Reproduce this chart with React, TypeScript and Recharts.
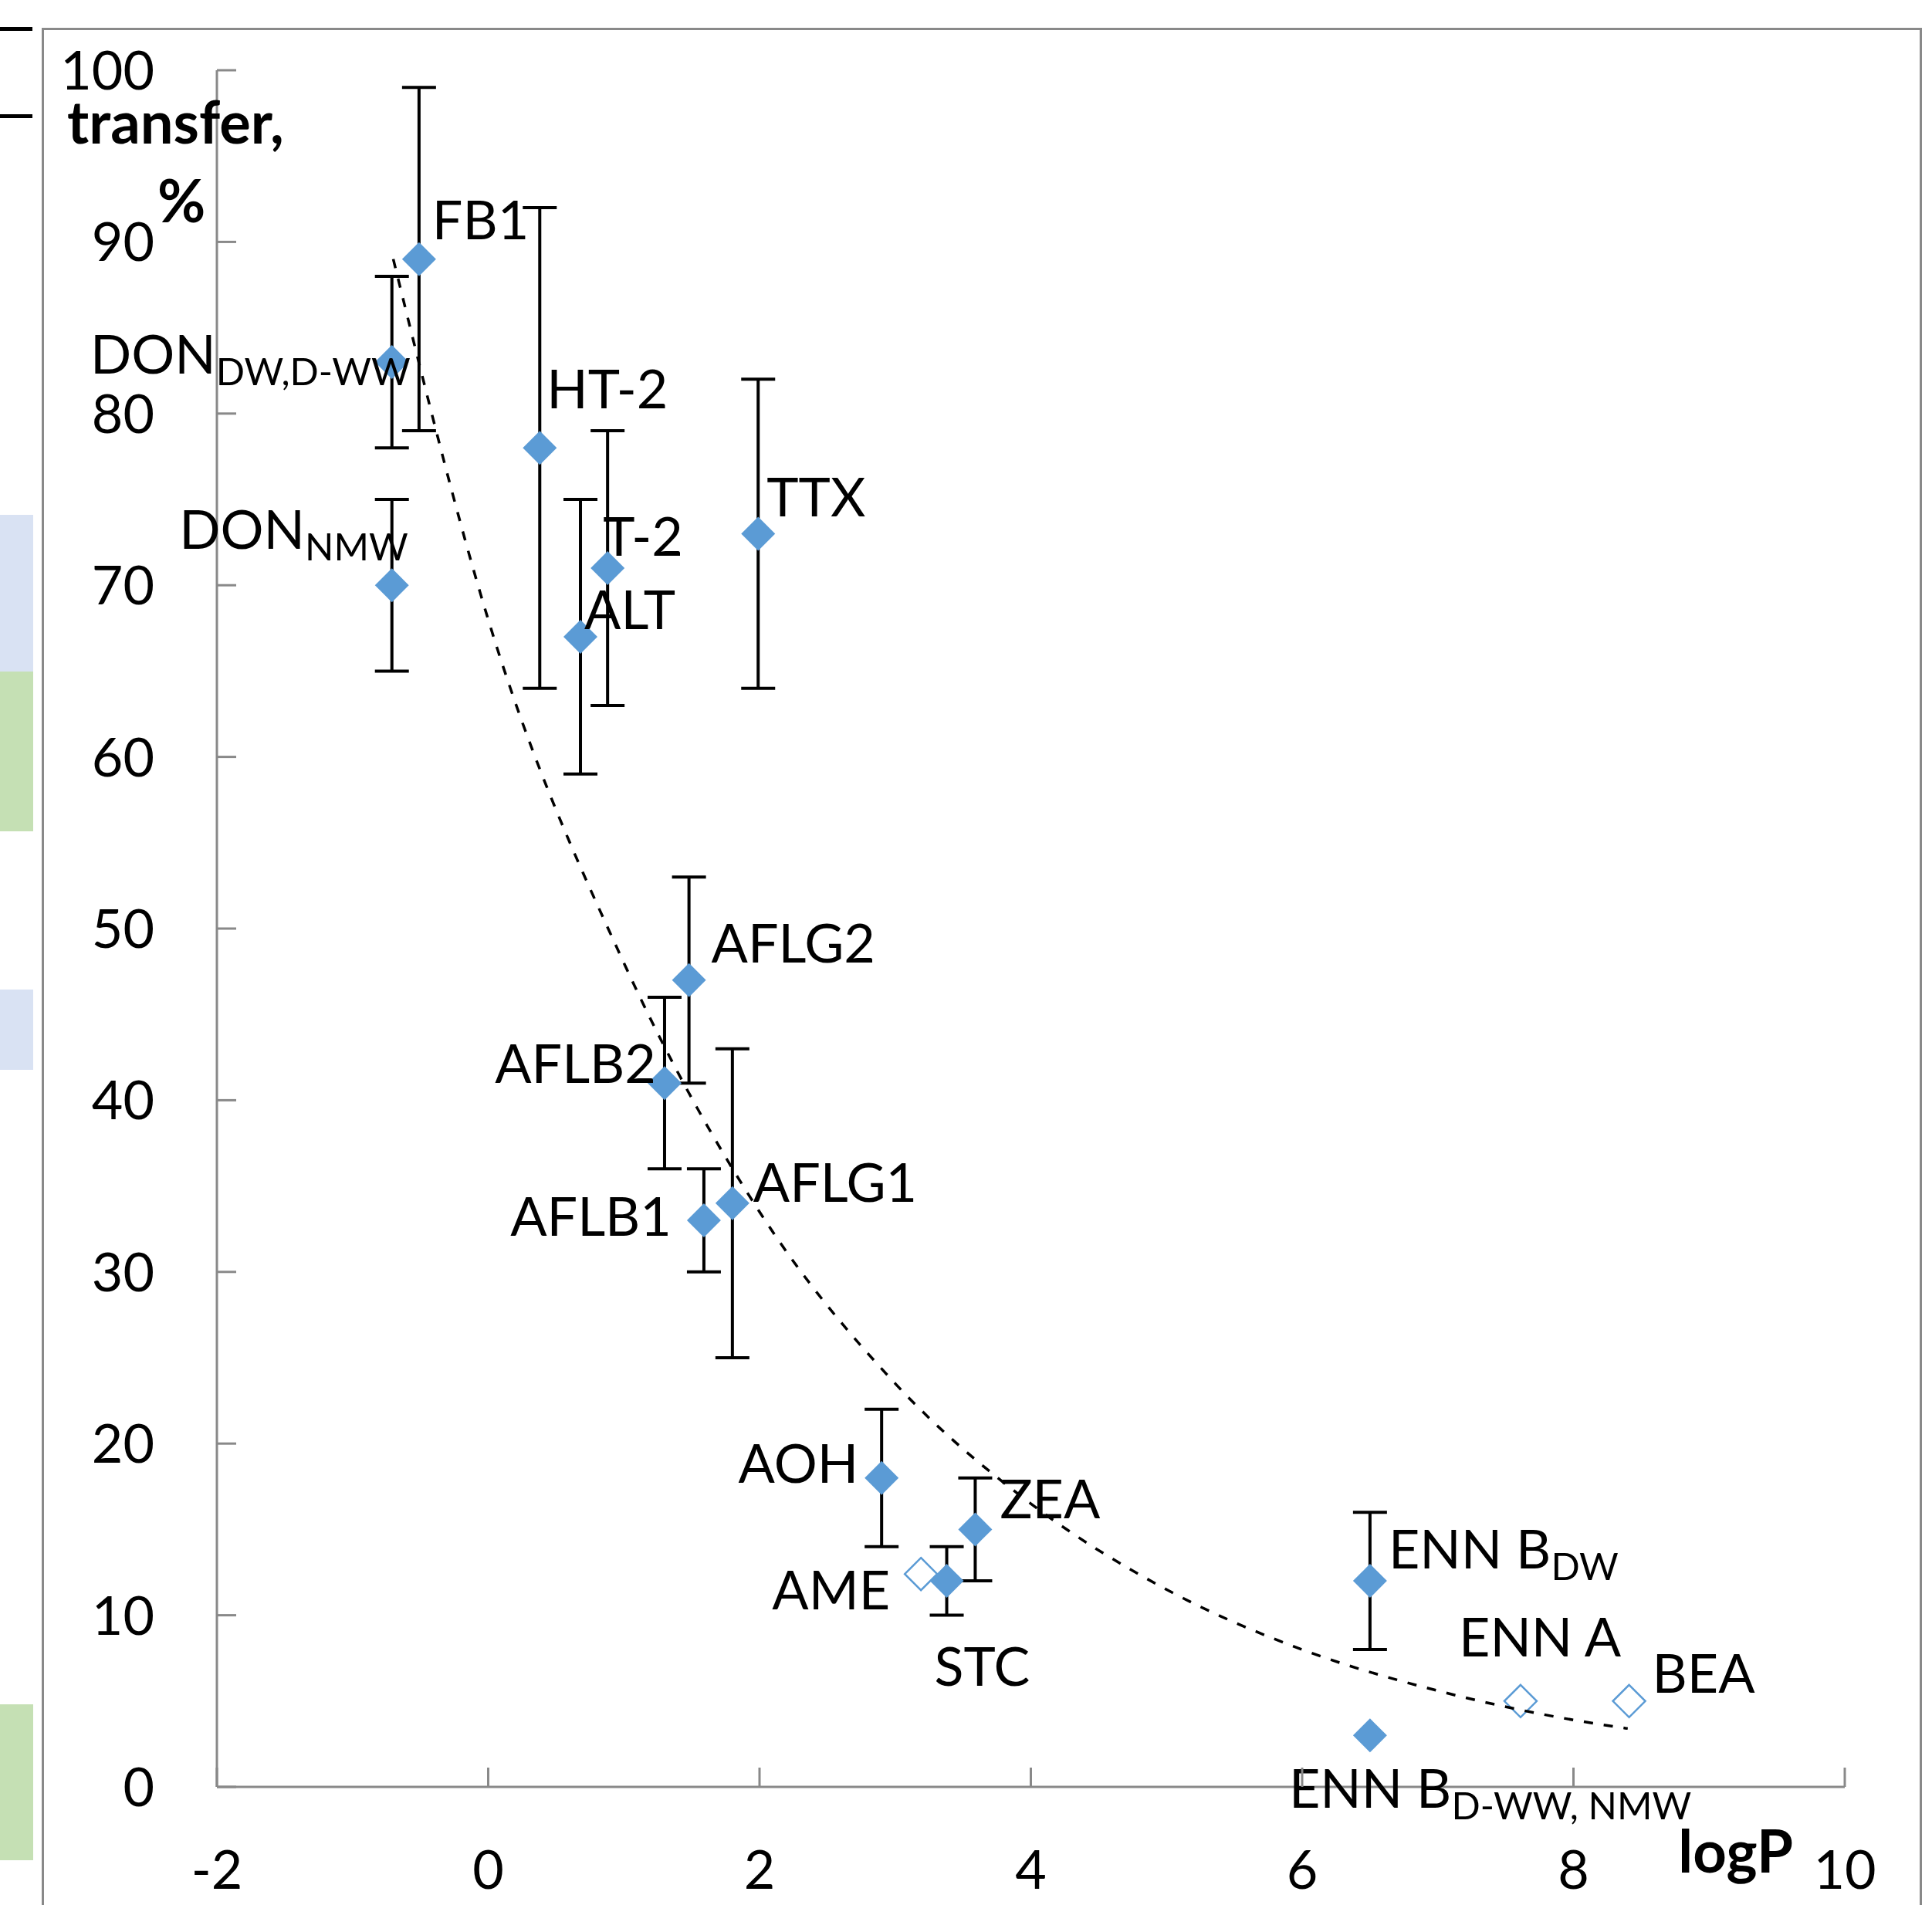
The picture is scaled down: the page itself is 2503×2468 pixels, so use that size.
import React from "react";
import { ScatterChart, Scatter, XAxis, YAxis, ErrorBar, Label } from "recharts";

// measured compounds (filled markers)
const names = ["FB1", "DON", "DON", "HT-2", "T-2", "ALT", "TTX", "AFLG2", "AFLB2", "AFLB1", "AFLG1", "AOH", "ZEA", "STC", "ENN B", "ENN B"];
const subs = ["", "DW,D-WW", "NMW", "", "", "", "", "", "", "", "", "", "", "", "DW", "D-WW, NMW"];
const logP = [-0.51, -0.71, -0.71, 0.38, 0.88, 0.68, 1.99, 1.48, 1.3, 1.59, 1.8, 2.9, 3.59, 3.38, 6.5, 6.5];
const transfer = [89, 83, 70, 78, 71, 67, 73, 47, 41, 33, 34, 18, 15, 12, 12, 3];
const spread = [10, 5, 5, 14, 8, 8, 9, 6, 5, 3, 9, 4, 3, 2, 4, 0];

// estimated compounds (hollow markers)
const estNames = ["AME", "ENN A", "BEA"];
const estLogP = [3.19, 7.61, 8.41];
const estTransfer = [12.4, 5, 5];

// trendline
const trendLogP = [-0.7, 0, 1, 2, 3, 4, 5, 6, 7, 8, 8.4];
const trendTransfer = [89, 68, 48, 33.5, 23.5, 16.5, 11.5, 8, 5.6, 3.9, 3.4];

const xTicks = [-2, 0, 2, 4, 6, 8, 10];
const yTicks = [0, 10, 20, 30, 40, 50, 60, 70, 80, 90, 100];

const BLUE = "#5b9bd5";
const AXIS = "#898989";
const FONT = "Lato, 'Liberation Sans', sans-serif";

// label placement: dx, dy (baseline), anchor
const place: Record<string, [number, number, "start" | "end" | "middle"]> = {
  "FB1": [17, -26, "start"],
  "DON DW,D-WW": [24, 15, "end"],
  "DON NMW": [21, -47, "end"],
  "HT-2": [9, -51, "start"],
  "T-2": [-6, -16, "start"],
  "ALT": [5, -10, "start"],
  "TTX": [11, -22, "start"],
  "AFLG2": [29, -23, "start"],
  "AFLB2": [-11, 0, "end"],
  "AFLB1": [-42, 20, "end"],
  "AFLG1": [27, -2, "start"],
  "AOH": [-30, 6, "end"],
  "ZEA": [32, -14, "start"],
  "STC": [-16, 136, "start"],
  "ENN B DW": [24, -16, "start"],
  "ENN B D-WW, NMW": [-105, 94, "start"],
  "AME": [-40, 46, "end"],
  "ENN A": [-80, -58, "start"],
  "BEA": [30, -11, "start"],
};

const measured = names.map((n, i) => ({
  name: n,
  sub: subs[i],
  x: logP[i],
  y: transfer[i],
  err: spread[i] || null,
}));
const estimated = estNames.map((n, i) => ({ name: n, sub: "", x: estLogP[i], y: estTransfer[i] }));
const trend = trendLogP.map((x, i) => ({ x, y: trendTransfer[i] }));

const diamond = (cx: number, cy: number, r: number) =>
  `${cx},${cy - r} ${cx + r},${cy} ${cx},${cy + r} ${cx - r},${cy}`;

function PointLabel({ cx, cy, name, sub }: any) {
  const key = sub ? `${name} ${sub}` : name;
  const [dx, dy, anchor] = place[key] || [10, -10, "start"];
  return (
    <text x={cx + dx} y={cy + dy} textAnchor={anchor} fontFamily={FONT} fontSize={70} fill="#000">
      <tspan>{name}</tspan>
      {sub ? (
        <tspan fontSize={49} dy={15}>
          {sub}
        </tspan>
      ) : null}
    </text>
  );
}

const FilledShape = (p: any) => (
  <g>
    <polygon points={diamond(p.cx, p.cy, 22)} fill={BLUE} />
    <PointLabel cx={p.cx} cy={p.cy} name={p.payload.name} sub={p.payload.sub} />
  </g>
);

const HollowShape = (p: any) => (
  <g>
    <polygon points={diamond(p.cx, p.cy, 21)} fill="#fff" stroke={BLUE} strokeWidth={2.5} />
    <PointLabel cx={p.cx} cy={p.cy} name={p.payload.name} sub="" />
  </g>
);

const YTick = ({ x, y, payload }: any) => (
  <g>
    <line x1={x + 81} x2={x + 106} y1={y} y2={y} stroke={AXIS} strokeWidth={3} />
    <text x={x} y={y} dy={25} textAnchor="end" fontFamily={FONT} fontSize={70} fill="#000">
      {payload.value}
    </text>
  </g>
);

const XTick = ({ x, y, payload }: any) => (
  <g>
    <line x1={x} x2={x} y1={y - 107} y2={y - 132} stroke={AXIS} strokeWidth={3} />
    <text x={x} y={y} dy={25} textAnchor="middle" fontFamily={FONT} fontSize={70} fill="#000">
      {payload.value}
    </text>
  </g>
);

const box = (left: number, top: number, width: number, height: number, background: string) => (
  <div style={{ position: "absolute", left, top, width, height, background }} />
);

export default function App() {
  return (
    <div style={{ position: "absolute", left: 0, top: 0, width: 2503, height: 2468, background: "#fff", overflow: "hidden" }}>
      {box(0, 35, 42, 5, "#000")}
      {box(0, 148, 42, 5, "#000")}
      {box(0, 667, 43, 203, "#d9e2f3")}
      {box(0, 870, 43, 207, "#c5e0b4")}
      {box(0, 1282, 43, 104, "#d9e2f3")}
      {box(0, 2208, 43, 202, "#c5e0b4")}
      <div
        style={{
          position: "absolute",
          left: 54,
          top: 36,
          width: 2436,
          height: 2500,
          border: `3px solid ${AXIS}`,
          boxSizing: "border-box",
        }}
      />
      <div style={{ position: "absolute", left: 0, top: 0 }}>
        <ScatterChart width={2503} height={2468} margin={{ top: 91, right: 113, bottom: 0, left: 0 }}>
          <XAxis
            type="number"
            dataKey="x"
            domain={[-2, 10]}
            ticks={xTicks}
            height={153}
            stroke={AXIS}
            strokeWidth={3}
            tickLine={false}
            tickSize={0}
            tickMargin={107}
            tick={<XTick />}
          >
            <Label
              content={({ viewBox }: any) => (
                <text x={viewBox.x + 2042} y={viewBox.y + 111} textAnchor="end" fontFamily={FONT} fontWeight="bold" fontSize={76} fill="#000">
                  logP
                </text>
              )}
            />
          </XAxis>
          <YAxis
            type="number"
            dataKey="y"
            domain={[0, 100]}
            ticks={yTicks}
            width={281}
            stroke={AXIS}
            strokeWidth={3}
            tickLine={false}
            tickSize={0}
            tickMargin={81}
            tick={<YTick />}
          >
            <Label
              content={({ viewBox }: any) => (
                <g fontFamily={FONT} fontWeight="bold" fontSize={76} fill="#000">
                  <text x={viewBox.x + 87} y={viewBox.y + 95}>
                    transfer,
                  </text>
                  <text x={viewBox.x + 204} y={viewBox.y + 197}>
                    %
                  </text>
                </g>
              )}
            />
          </YAxis>
          <Scatter data={measured} shape={FilledShape} isAnimationActive={false}>
            <ErrorBar dataKey="err" direction="y" width={22} strokeWidth={4} stroke="#000" />
          </Scatter>
          <Scatter data={estimated} shape={HollowShape} isAnimationActive={false} />
          <Scatter
            data={trend}
            line={{ stroke: "#000", strokeWidth: 3.5, strokeDasharray: "12 14" }}
            lineType="joint"
            lineJointType="monotoneX"
            shape={() => <g />}
            isAnimationActive={false}
          />
        </ScatterChart>
      </div>
    </div>
  );
}
